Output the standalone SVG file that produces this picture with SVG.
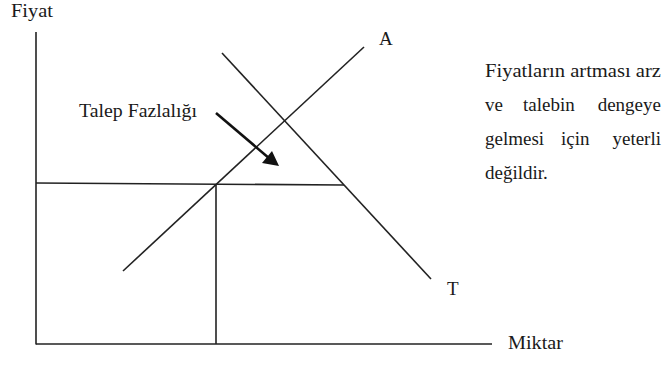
<svg xmlns="http://www.w3.org/2000/svg" width="665" height="365" viewBox="0 0 665 365">
<style>
text{font-family:"Liberation Serif","Times New Roman",serif;fill:#1a1a1a;font-size:19px}
.ln{stroke:#222;stroke-width:1.6;fill:none;stroke-linecap:butt}
</style>
<rect width="665" height="365" fill="#fff"/>
<g id="axes">
<line class="ln" x1="36" y1="32" x2="36" y2="344.5"/>
<line class="ln" x1="36" y1="344" x2="492" y2="344"/>
</g>
<g id="connectors">
<line class="ln" x1="36" y1="183" x2="344" y2="185"/>
<line class="ln" x1="216" y1="184" x2="216" y2="344"/>
<line id="supply" class="ln" x1="123" y1="271" x2="364" y2="47"/>
<line id="demand" class="ln" x1="222" y1="53" x2="431" y2="279"/>
<line id="arrow" x1="216" y1="113" x2="270" y2="159" stroke="#111" stroke-width="2.6"/>
<path d="M262,163 L279,166 L272,151 Z" fill="#111"/>
</g>
<g id="labels">
<text x="11" y="17" textLength="42" lengthAdjust="spacingAndGlyphs">Fiyat</text>
<text x="508" y="349" textLength="55" lengthAdjust="spacingAndGlyphs">Miktar</text>
<text x="379" y="45">A</text>
<text x="447" y="295">T</text>
<text x="79" y="117" textLength="118" lengthAdjust="spacingAndGlyphs">Talep Fazlalığı</text>
</g>
<g id="note">
<text x="485" y="77" textLength="176" lengthAdjust="spacingAndGlyphs">Fiyatların artması arz</text>
<text y="111"><tspan x="485">ve</tspan><tspan x="523">talebin</tspan><tspan x="661" text-anchor="end">dengeye</tspan></text>
<text y="145"><tspan x="485">gelmesi</tspan><tspan x="561">için</tspan><tspan x="661" text-anchor="end">yeterli</tspan></text>
<text x="485" y="179">değildir.</text>
</g>
</svg>
